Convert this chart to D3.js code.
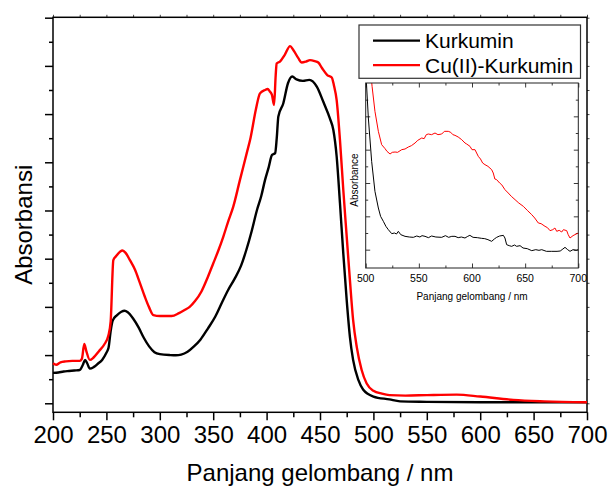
<!DOCTYPE html>
<html><head><meta charset="utf-8">
<script src="https://cdn.jsdelivr.net/npm/d3@7"></script>
<style>body{margin:0;background:#fff}svg{display:block}text{font-family:"Liberation Sans",Arial,sans-serif;fill:#000}</style>
</head><body>
<script>
// ---- Main chart data (wavelength nm, absorbance a.u.) ----
const kurkuminWl = [200,205,210,215,220,225,228,230,232,234.5,238,242,246,250,252,254,256,260,264,267,270,275,280,285,290,295,300,310,315,320,326,332,338,345,352,358,364,370,376,381,386,391,395,398.5,402,405,408,409.5,411,415.6,420,424,428,434,440,447,453,459.4,462.5,465.6,468.7,471.8,475,478,481,486,490.5,500,515,525,550,600,650,700];
const kurkuminAbs = [0.063,0.064,0.066,0.067,0.068,0.069,0.080,0.090,0.083,0.072,0.075,0.082,0.090,0.105,0.115,0.150,0.172,0.183,0.190,0.192,0.189,0.176,0.158,0.136,0.118,0.106,0.102,0.100,0.0996,0.101,0.107,0.118,0.132,0.155,0.180,0.208,0.235,0.258,0.285,0.318,0.357,0.401,0.430,0.463,0.490,0.515,0.519,0.550,0.595,0.622,0.664,0.678,0.672,0.669,0.671,0.657,0.626,0.590,0.567,0.512,0.415,0.311,0.214,0.138,0.090,0.048,0.028,0.014,0.008,0.004,0.003,0.002,0.002,0.002];
const cuWl = [200,203,207,212,218,225,227,229.3,231,234.5,238,243,248,251.8,254,256.5,259,263,265,268,272,276.8,281,286,290,294,300,311,318,323.6,328,333,339,345,350,355,359.5,364,368.8,375,381.4,385,390,393.8,398.5,401,403,405,407,408.5,409.4,412.5,417,422,425,429.7,432.8,437,440.6,445,448.4,452,456.8,461,463,465.6,468.7,471.8,475,478,481,484.4,489,493.7,500,508,515,530,550,578,600,631,660,700];
const cuAbs = [0.083,0.080,0.085,0.087,0.088,0.088,0.092,0.123,0.110,0.090,0.095,0.108,0.122,0.140,0.170,0.297,0.305,0.315,0.317,0.312,0.297,0.277,0.252,0.221,0.199,0.183,0.181,0.181,0.187,0.194,0.200,0.212,0.232,0.262,0.290,0.318,0.346,0.377,0.408,0.463,0.519,0.551,0.610,0.643,0.650,0.652,0.647,0.640,0.619,0.680,0.705,0.709,0.723,0.741,0.733,0.716,0.707,0.709,0.712,0.710,0.707,0.695,0.681,0.676,0.660,0.629,0.546,0.443,0.346,0.256,0.173,0.117,0.069,0.041,0.026,0.020,0.017,0.016,0.017,0.018,0.014,0.007,0.004,0.002];

// ---- Inset data (500-700 nm, arbitrary units) ----
const insetKWl = [500,502.5,505.6,508.7,511.9,514,516.6,519,521.3,524.5,527,529,530.7,533,537,541,544.8,548,551,553,555.8,559,562,566,571.5,575,578,581,584,587,590,593.4,596,598,601,605,609,612,615,618.5,621,623.2,626,629.5,631,632.6,635,637.3,640,642,645.2,648,652,656.2,660,663,665.6,670,675,680,683,685.5,687.5,690,692.2,695,698,700];
const insetKAbs = [5.4,3.95,2.65,1.75,1.25,1.0,0.85,0.70,0.60,0.48,0.50,0.47,0.55,0.45,0.40,0.38,0.37,0.41,0.38,0.42,0.40,0.36,0.41,0.38,0.37,0.42,0.37,0.40,0.40,0.36,0.38,0.35,0.40,0.43,0.37,0.36,0.34,0.33,0.30,0.25,0.32,0.37,0.41,0.43,0.35,0.15,0.12,0.10,0.14,0.10,0.12,0.05,0.03,-0.03,0.0,-0.02,0.0,-0.05,-0.05,-0.05,-0.04,0.02,0.07,0.0,-0.05,0.0,-0.02,0.0];
const insetCWl = [504,506,508.7,511.9,515,518.2,520,522.9,525,527.6,530,533.9,537,540.1,543,546.4,549,552.7,555,557,558.9,562,565.2,568,571.5,574,577.7,580,582,584,587,590.3,593.4,595,598.1,600,602.8,605.9,608,610,612.2,615,618.5,620,621.5,623.2,626,627.9,631,634.1,637,640.5,644,648.3,652,656.2,659,662.4,665,668.7,671,673.4,676,678,679.7,682,684.4,686,689.1,690.5,692.2,695,698,700];
const insetCAbs = [5.6,4.9,4.15,3.55,3.15,3.03,2.95,2.87,2.92,2.93,2.92,3.0,3.02,3.08,3.12,3.2,3.28,3.35,3.33,3.45,3.47,3.45,3.5,3.45,3.47,3.55,3.55,3.52,3.45,3.43,3.38,3.3,3.2,3.17,3.1,3.0,3.0,2.8,2.72,2.6,2.55,2.5,2.4,2.3,2.12,2.1,2.0,1.95,1.8,1.7,1.6,1.5,1.4,1.3,1.18,1.05,0.95,0.8,0.78,0.7,0.66,0.57,0.60,0.65,0.55,0.58,0.53,0.60,0.57,0.45,0.35,0.42,0.47,0.5];

const seriesNames = ["Kurkumin","Cu(II)-Kurkumin"];
const seriesColors = ["#000000","#ff0000"];
const xTickLabels = [200,250,300,350,400,450,500,550,600,650,700];
const insetXTickLabels = [500,550,600,650,700];

const W = 609, H = 489;
const svg = d3.select("body").append("svg").attr("width", W).attr("height", H);

// ---------- Main chart ----------
const M = {l:53, r:587, t:17.3, b:412.3};
const x = d3.scaleLinear().domain([200,700]).range([M.l, M.r]);
const y = d3.scaleLinear().domain([-0.0187, 0.8008]).range([M.b, M.t]);

const majorY = d3.range(0, 0.801, 0.1);
const minorY = d3.range(0.05, 0.8, 0.1);
const minorX = d3.range(225, 700, 50);

// left axis
svg.append("g").attr("transform", `translate(${M.l},0)`)
  .call(d3.axisLeft(y).tickValues(majorY).tickSize(8).tickFormat(""))
  .call(g => g.select(".domain").remove())
  .call(g => g.selectAll("line").attr("stroke","#000").attr("stroke-width",1.5));
svg.append("g").attr("transform", `translate(${M.l},0)`)
  .call(d3.axisLeft(y).tickValues(minorY).tickSize(4).tickFormat(""))
  .call(g => g.select(".domain").remove())
  .call(g => g.selectAll("line").attr("stroke","#000").attr("stroke-width",1.5));
// right axis small ticks
svg.append("g").attr("transform", `translate(${M.r},0)`)
  .call(d3.axisRight(y).tickValues(majorY.concat(minorY)).tickSize(2.5).tickFormat(""))
  .call(g => g.select(".domain").remove())
  .call(g => g.selectAll("line").attr("stroke","#444").attr("stroke-width",1));
// bottom axis
svg.append("g").attr("transform", `translate(0,${M.b})`)
  .call(d3.axisBottom(x).tickValues(xTickLabels).tickSize(8).tickPadding(6).tickFormat(d3.format("d")))
  .call(g => g.select(".domain").remove())
  .call(g => g.selectAll("line").attr("stroke","#000").attr("stroke-width",1.5))
  .call(g => g.selectAll("text").attr("font-size",24).attr("font-family","Liberation Sans, Arial, sans-serif").attr("fill","#000"));
svg.append("g").attr("transform", `translate(0,${M.b})`)
  .call(d3.axisBottom(x).tickValues(minorX).tickSize(5).tickFormat(""))
  .call(g => g.select(".domain").remove())
  .call(g => g.selectAll("line").attr("stroke","#000").attr("stroke-width",1.5));
// top axis small ticks
svg.append("g").attr("transform", `translate(0,${M.t})`)
  .call(d3.axisTop(x).tickValues(xTickLabels.concat(minorX)).tickSize(2.5).tickFormat(""))
  .call(g => g.select(".domain").remove())
  .call(g => g.selectAll("line").attr("stroke","#444").attr("stroke-width",1));

// frame
svg.append("rect").attr("x",M.l).attr("y",M.t).attr("width",M.r-M.l).attr("height",M.b-M.t)
  .attr("fill","none").attr("stroke","#000").attr("stroke-width",1.5);

// curves
const line = d3.line().x(d=>x(d[0])).y(d=>y(d[1])).curve(d3.curveMonotoneX);
const mainSeries = [d3.zip(kurkuminWl, kurkuminAbs), d3.zip(cuWl, cuAbs)];
mainSeries.forEach((s,i)=>{
  svg.append("path").datum(s).attr("d", line).attr("fill","none")
    .attr("stroke", seriesColors[i]).attr("stroke-width",2.4).attr("stroke-linejoin","round");
});

// axis titles
svg.append("text").attr("x",(M.l+M.r)/2).attr("y",481).attr("text-anchor","middle")
  .attr("font-size",24).text("Panjang gelombang / nm");
svg.append("text").attr("transform",`translate(32,${(M.t+M.b)/2+10}) rotate(-90)`).attr("text-anchor","middle")
  .attr("font-size",24).text("Absorbansi");

// legend
const lg = svg.append("g");
lg.append("rect").attr("x",359).attr("y",25).attr("width",221.5).attr("height",53.3)
  .attr("fill","#fff").attr("stroke","#333").attr("stroke-width",1.2);
seriesNames.forEach((n,i)=>{
  const yy = 40.7 + i*24.4;
  lg.append("line").attr("x1",373).attr("x2",420).attr("y1",yy).attr("y2",yy)
    .attr("stroke",seriesColors[i]).attr("stroke-width",2.2);
  lg.append("text").attr("x",425).attr("y",yy+7.6).attr("font-size",21).text(n);
});

// ---------- Inset ----------
const I = {l:365.7, r:578.3, t:83, b:268};
const xi = d3.scaleLinear().domain([500,700]).range([I.l, I.r]);
const yi = d3.scaleLinear().domain([-0.55, 5.0]).range([I.b, I.t]);
const ig = svg.append("g");
ig.append("rect").attr("x",I.l).attr("y",I.t).attr("width",I.r-I.l).attr("height",I.b-I.t).attr("fill","#fff");
svg.append("defs").append("clipPath").attr("id","ic").append("rect")
  .attr("x",I.l).attr("y",I.t).attr("width",I.r-I.l).attr("height",I.b-I.t);
const iMajY = [0,1,2,3,4];
const iMinY = [0.5,1.5,2.5,3.5,4.5];
const iMinX = [525,575,625,675];
function tk(g){ g.select(".domain").remove(); g.selectAll("line").attr("stroke","#222").attr("stroke-width",0.9); }
ig.append("g").attr("transform",`translate(${I.l},0)`).call(d3.axisRight(yi).tickValues(iMajY).tickSize(4.5).tickFormat("")).call(tk);
ig.append("g").attr("transform",`translate(${I.l},0)`).call(d3.axisRight(yi).tickValues(iMinY).tickSize(2.5).tickFormat("")).call(tk);
ig.append("g").attr("transform",`translate(${I.r},0)`).call(d3.axisLeft(yi).tickValues(iMajY).tickSize(4.5).tickFormat("")).call(tk);
ig.append("g").attr("transform",`translate(${I.r},0)`).call(d3.axisLeft(yi).tickValues(iMinY).tickSize(2.5).tickFormat("")).call(tk);
ig.append("g").attr("transform",`translate(0,${I.b})`).call(d3.axisTop(xi).tickValues(insetXTickLabels).tickSize(4.5).tickFormat("")).call(tk);
ig.append("g").attr("transform",`translate(0,${I.b})`).call(d3.axisTop(xi).tickValues(iMinX).tickSize(2.5).tickFormat("")).call(tk);
ig.append("g").attr("transform",`translate(0,${I.t})`).call(d3.axisBottom(xi).tickValues(insetXTickLabels).tickSize(4.5).tickFormat("")).call(tk);
ig.append("g").attr("transform",`translate(0,${I.t})`).call(d3.axisBottom(xi).tickValues(iMinX).tickSize(2.5).tickFormat("")).call(tk);
ig.selectAll(".ilab").data(insetXTickLabels).enter().append("text")
  .attr("x",d=>xi(d)).attr("y",281.5).attr("text-anchor","middle").attr("font-size",10.5).text(d=>d);
const iline = d3.line().x(d=>xi(d[0])).y(d=>yi(d[1]));
[d3.zip(insetKWl,insetKAbs), d3.zip(insetCWl,insetCAbs)].forEach((s,i)=>{
  ig.append("path").datum(s).attr("d",iline).attr("clip-path","url(#ic)").attr("fill","none")
    .attr("stroke",seriesColors[i]).attr("stroke-width",1);
});
ig.append("rect").attr("x",I.l).attr("y",I.t).attr("width",I.r-I.l).attr("height",I.b-I.t)
  .attr("fill","none").attr("stroke","#222").attr("stroke-width",1);
ig.append("text").attr("x",(I.l+I.r)/2).attr("y",300).attr("text-anchor","middle").attr("font-size",10).text("Panjang gelombang / nm");
ig.append("text").attr("transform",`translate(358,180) rotate(-90)`).attr("text-anchor","middle").attr("font-size",10).text("Absorbance");
</script>
</body></html>
